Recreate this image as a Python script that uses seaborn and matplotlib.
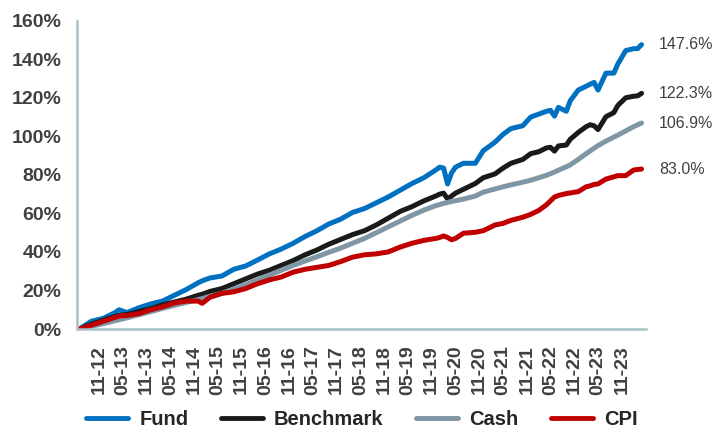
import numpy as np
import pandas as pd
import matplotlib
matplotlib.use("Agg")
import matplotlib.pyplot as plt
import seaborn as sns

# Month index (0 = Jun 2012)
months = [0, 3, 6, 9, 10, 12, 15, 18, 21, 24, 27, 30, 31, 33, 36, 39, 42, 45, 48, 51,
          54, 57, 60, 63, 66, 69, 72, 75, 78, 81, 84, 87, 90, 91, 92, 93, 94, 95, 97, 100,
          102, 105, 107, 109, 112, 114, 116, 118, 119, 120, 121, 123, 124, 126, 128, 129, 130, 131, 133, 135,
          136, 138, 140, 141, 142]

fund = [0, 4, 5.5, 8.5, 10, 8.5, 11, 13, 14.5, 17.5, 20.5, 24, 25, 26.5, 27.5, 31, 32.7, 35.8, 39, 41.5,
        44.5, 48, 51, 54.5, 57, 60.5, 62.5, 65.5, 68.5, 72, 75.5, 78.5, 82.5, 84, 83.5, 75.3, 81, 84, 86, 86,
        92.5, 97, 101, 104, 105.5, 110, 111.5, 113, 113.5, 110.5, 115, 113, 118.5, 124, 126, 127, 128, 124, 132.8, 132.8,
        137.5, 144.5, 145.5, 145.5, 147.6]

benchmark = [0, 2.5, 4.5, 6.5, 7, 7.5, 9, 10.5, 12.5, 14, 15.5, 17.5, 18, 19.5, 21, 23.5, 26, 28.5, 30.5, 33,
             35.5, 38.5, 41, 44, 46.5, 49, 51, 54, 57.5, 61, 63.5, 66.5, 69, 70, 70.5, 67.5, 69, 70.5, 72.5, 75.5,
             78.5, 80.5, 83.5, 86, 88, 91, 92, 94, 94.3, 92.3, 95, 95.5, 98.5, 102, 105, 106, 105.5, 103.5, 110.2, 112.3,
             116, 120, 120.8, 121, 122.3]

cash = [0, 1.4, 2.8, 4.3, 4.8, 5.8, 7.4, 9, 10.7, 12.3, 13.8, 15.3, 15.8, 17, 18.5, 20.7, 23, 25.5, 28, 30.5,
        33, 35.3, 37.5, 39.8, 42, 44.5, 47, 50, 53, 56, 59, 61.7, 64, 64.6, 65.2, 65.7, 66.2, 66.6, 67.4, 69,
        71, 72.7, 73.8, 74.8, 76.2, 77.2, 78.5, 79.8, 80.6, 81.5, 82.4, 84.2, 85.2, 88, 91, 92.4, 93.8, 95.2, 97.5, 99.6,
        100.6, 102.8, 105, 106, 106.9]

cpi = [0, 2, 4, 6, 6.7, 7, 8, 10, 11.5, 13.5, 14.5, 14.5, 13.3, 16.5, 18.5, 19.3, 21, 23.5, 25.5, 27,
       29.5, 31, 32, 33, 35, 37.3, 38.5, 39, 40, 42.5, 44.5, 46, 47, 47.5, 48.3, 47.5, 46.3, 47, 49.7, 50.2,
       51, 54, 54.8, 56.4, 58, 59.5, 61.5, 64.5, 66.5, 68.5, 69.3, 70.3, 70.6, 71.3, 73.8, 74.3, 75, 75.3, 77.8, 79,
       79.6, 79.6, 82.5, 82.8, 83.0]

series_names = ["Fund", "Benchmark", "Cash", "CPI"]
series_colors = ["#0070C0", "#1A1A1A", "#7F97A4", "#C00000"]

tick_months = list(range(5, 138, 6))
tick_labels = [pd.Timestamp(2012, 6, 1) + pd.DateOffset(months=m) for m in tick_months]
tick_labels = [d.strftime("%m-%y") for d in tick_labels]

sns.set_style("white")
plt.rcParams["font.family"] = ["Liberation Sans", "DejaVu Sans"]

df = pd.concat([
    pd.DataFrame({"month": months, "value": vals, "series": name})
    for name, vals in zip(series_names, [fund, benchmark, cash, cpi])
])

fig = plt.figure(figsize=(7.28, 4.28), dpi=100)
ax = fig.add_axes([0.1058, 0.2313, 0.7809, 0.7203])

sns.lineplot(data=df, x="month", y="value", hue="series", hue_order=series_names,
             palette=series_colors, linewidth=3.6, ax=ax, legend=False)

ax.set_xlim(-0.6, 142.6)
ax.set_ylim(0, 160)
ax.set_xlabel("")
ax.set_ylabel("")

axis_col = "#A7C2C6"
for s in ["top", "right"]:
    ax.spines[s].set_visible(False)
for s in ["left", "bottom"]:
    ax.spines[s].set_color(axis_col)
    ax.spines[s].set_linewidth(1.8)

ax.set_yticks(np.arange(0, 161, 20))
ax.set_yticklabels([f"{v}%" for v in range(0, 161, 20)])
ax.set_xticks(tick_months + [143])
ax.set_xticklabels(tick_labels + [""], rotation=90)

ax.tick_params(axis="y", length=6, width=1.8, color=axis_col, pad=5,
               labelsize=14, labelcolor="#404040")
ax.tick_params(axis="x", length=3.5, width=1.8, color=axis_col, pad=8,
               labelsize=14, labelcolor="#404040")
for lab in ax.get_yticklabels() + ax.get_xticklabels():
    lab.set_fontweight("bold")

for name, vals, col in zip(series_names, [fund, benchmark, cash, cpi], series_colors):
    ax.annotate(f"{vals[-1]:.1f}%", xy=(months[-1], vals[-1]), xytext=(12.5, 0),
                textcoords="offset points", va="center", ha="left",
                fontsize=11.5, color="#404040", annotation_clip=False)

handles = [plt.Line2D([], [], color=c, linewidth=3.5) for c in series_colors]
leg = fig.legend(handles, series_names, loc="lower center", ncol=4,
                 bbox_to_anchor=(0.497, -0.035), frameon=False,
                 prop={"weight": "bold", "size": 14.5},
                 handlelength=2.1, handletextpad=0.55, columnspacing=1.6,
                 borderpad=0.2)

fig.savefig("out.png", dpi=100)
